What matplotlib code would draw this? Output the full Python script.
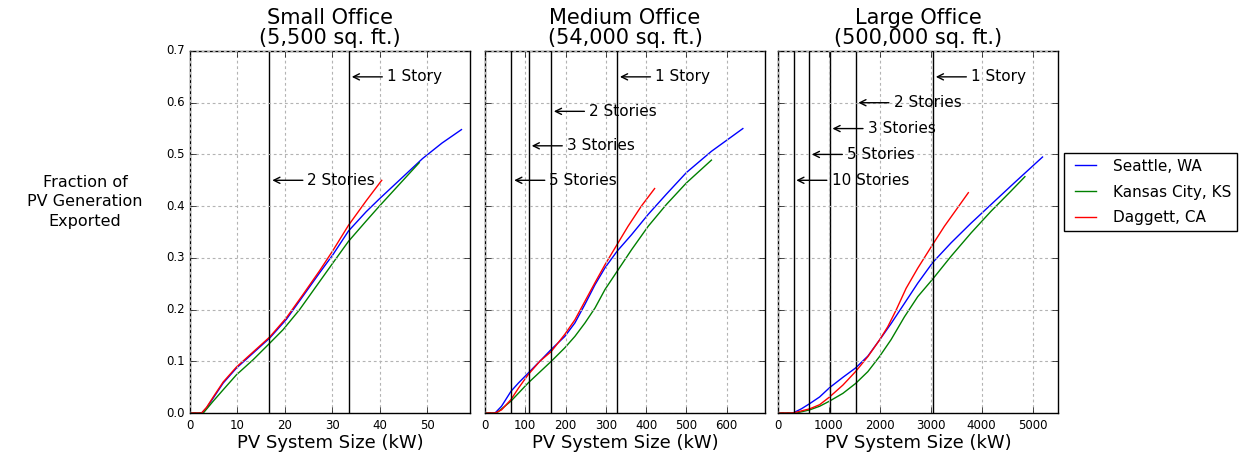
import numpy as np
import matplotlib
matplotlib.use('Agg')
import matplotlib.pyplot as plt

plt.style.use('classic')
plt.rcParams['figure.facecolor'] = 'white'
plt.rcParams['savefig.facecolor'] = 'white'

cities = ['Seattle, WA', 'Kansas City, KS', 'Daggett, CA']
colors = ['b', 'g', 'r']

titles = ['Small Office\n(5,500 sq. ft.)',
          'Medium Office\n(54,000 sq. ft.)',
          'Large Office\n(500,000 sq. ft.)']

# PV size (kW) and fraction exported, per building and city
small_x = {
    'Seattle, WA':     [0, 2.45, 3.5, 4.9, 7.0, 9.8, 13.3, 16.8, 20.3, 23.8, 27.3, 30.1, 33.4, 37.1, 39.9, 44.8, 49.0, 53.1, 57.2],
    'Kansas City, KS': [0, 2.8, 4.9, 7.0, 9.8, 13.3, 16.8, 19.6, 23.1, 26.6, 30.1, 33.4, 37.1, 39.9, 44.1, 48.3],
    'Daggett, CA':     [0, 2.45, 3.5, 4.9, 7.0, 9.8, 13.3, 16.8, 20.3, 23.8, 27.3, 30.1, 33.4, 37.1, 40.4],
}
small_y = {
    'Seattle, WA':     [0, 0, 0.010, 0.029, 0.058, 0.087, 0.116, 0.145, 0.181, 0.226, 0.271, 0.306, 0.352, 0.389, 0.414, 0.456, 0.492, 0.522, 0.548],
    'Kansas City, KS': [0, 0, 0.023, 0.045, 0.074, 0.103, 0.135, 0.161, 0.200, 0.245, 0.290, 0.332, 0.371, 0.400, 0.442, 0.484],
    'Daggett, CA':     [0, 0, 0.011, 0.031, 0.060, 0.089, 0.118, 0.147, 0.184, 0.229, 0.275, 0.314, 0.363, 0.410, 0.450],
}

medium_x = {
    'Seattle, WA':     [0, 25, 41, 64.5, 83, 107, 136, 164.5, 198, 223, 248, 273, 298, 328, 364, 405, 450, 500, 562, 640],
    'Kansas City, KS': [0, 29, 64.5, 107, 164.5, 198, 223, 248, 273, 298, 328, 364, 405, 450, 500, 562],
    'Daggett, CA':     [0, 25, 41, 64.5, 83, 107, 136, 164.5, 198, 223, 248, 273, 298, 328, 355, 388, 421],
}
medium_y = {
    'Seattle, WA':     [0, 0, 0.013, 0.042, 0.058, 0.077, 0.100, 0.123, 0.148, 0.174, 0.210, 0.248, 0.281, 0.313, 0.345, 0.384, 0.423, 0.465, 0.506, 0.550],
    'Kansas City, KS': [0, 0, 0.023, 0.058, 0.100, 0.126, 0.148, 0.174, 0.203, 0.239, 0.274, 0.316, 0.361, 0.403, 0.445, 0.489],
    'Daggett, CA':     [0, 0, 0.006, 0.026, 0.048, 0.074, 0.100, 0.119, 0.152, 0.180, 0.216, 0.252, 0.287, 0.326, 0.361, 0.400, 0.434],
}

large_x = {
    'Seattle, WA':     [0, 294, 458, 621, 817, 1013, 1275, 1523, 1765, 1993, 2222, 2484, 2745, 3039, 3399, 3791, 4183, 4641, 5196],
    'Kansas City, KS': [0, 359, 621, 817, 1013, 1275, 1523, 1765, 1993, 2222, 2484, 2745, 3039, 3399, 3791, 4183, 4575, 4850],
    'Daggett, CA':     [0, 294, 621, 817, 1013, 1275, 1523, 1765, 1993, 2157, 2320, 2516, 2745, 3020, 3268, 3529, 3739],
}
large_y = {
    'Seattle, WA':     [0, 0, 0.008, 0.018, 0.031, 0.049, 0.069, 0.087, 0.110, 0.141, 0.173, 0.212, 0.251, 0.291, 0.329, 0.367, 0.403, 0.445, 0.495],
    'Kansas City, KS': [0, 0, 0.006, 0.013, 0.023, 0.038, 0.057, 0.080, 0.109, 0.142, 0.186, 0.225, 0.259, 0.303, 0.348, 0.390, 0.429, 0.457],
    'Daggett, CA':     [0, 0, 0.008, 0.016, 0.031, 0.054, 0.080, 0.109, 0.141, 0.167, 0.199, 0.241, 0.280, 0.323, 0.361, 0.397, 0.426],
}

# roof-limited PV size (kW) for each story count
small_stories = [(1, 33.5), (2, 16.75)]
medium_stories = [(1, 328), (2, 164), (3, 109), (5, 65.6)]
large_stories = [(1, 3045), (2, 1523), (3, 1015), (5, 609), (10, 304.5)]

xmax = [59, 695, 5500]
xticks = [np.arange(0, 51, 10), np.arange(0, 601, 100), np.arange(0, 5001, 1000)]

fig = plt.figure(figsize=(12.44, 4.61), dpi=100)
lefts = [190 / 1244, 485 / 1244, 778 / 1244]
w = 280 / 1244
b = 1 - 413 / 461
h = 362 / 461

data = [(small_x, small_y, small_stories),
        (medium_x, medium_y, medium_stories),
        (large_x, large_y, large_stories)]

handles = []
for i, (xs, ys, stories) in enumerate(data):
    ax = fig.add_axes([lefts[i], b, w, h])
    for city, c in zip(cities, colors):
        ln, = ax.plot(xs[city], ys[city], color=c, lw=1)
        if i == 0:
            handles.append(ln)
    ypos = np.linspace(0.65, 0.45, len(stories))
    for (n, xv), yv in zip(stories, ypos):
        ax.axvline(xv, color='k', lw=1)
        label = '1 Story' if n == 1 else '%d Stories' % n
        ax.annotate(label, xy=(xv, yv), xytext=(38, 0), textcoords='offset pixels',
                    va='center', ha='left', fontsize=11,
                    arrowprops=dict(arrowstyle='->', color='k', lw=1,
                                    shrinkA=1, shrinkB=2))
    ax.set_xlim(0, xmax[i])
    ax.set_ylim(0, 0.7)
    ax.set_xticks(xticks[i])
    ax.set_yticks(np.arange(0, 0.71, 0.1))
    ax.grid(True, color='0.7', linestyle=(0, (2, 2)), lw=0.8)
    ax.tick_params(labelsize=8.5)
    if i == 0:
        ax.set_yticklabels(['%.1f' % v for v in np.arange(0, 0.71, 0.1)])
    else:
        ax.set_yticklabels([])
    ax.set_title(titles[i], fontsize=15, linespacing=1.0)
    ax.set_xlabel('PV System Size (kW)', fontsize=13, labelpad=2)

fig.text(85 / 1244, 1 - 202 / 461, 'Fraction of\nPV Generation\nExported',
         ha='center', va='center', fontsize=11.5, linespacing=1.35)

fig.legend(handles, cities, loc='center left',
           bbox_to_anchor=(1064 / 1244, 1 - 192 / 461),
           fontsize=11, frameon=True, fancybox=False, labelspacing=0.7,
           handlelength=2, numpoints=2, borderaxespad=0)

fig.savefig('out.png', dpi=100)
